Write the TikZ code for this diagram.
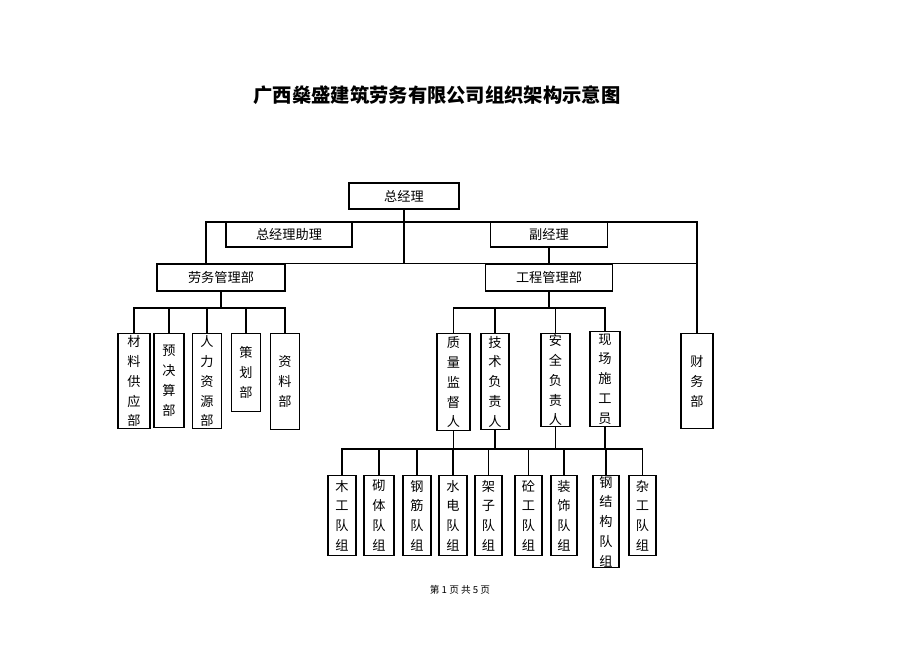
\documentclass[tikz,border=0pt]{standalone}
\usepackage{fontspec}
\setmainfont{Noto Sans CJK SC}
\tikzstyle{box}=[draw,thick,inner sep=0pt,font=\fontsize{7.5}{9}\selectfont]
\tikzstyle{vbox}=[box,anchor=north,align=center,font=\fontsize{7.5}{11.3}\selectfont]
\tikzstyle{link}=[thick]

\begin{document}
\begin{tikzpicture}[x=0.02cm,y=-0.02cm]
\useasboundingbox (0,0) rectangle (920,651);
\node (title) at (437,95) {\fontsize{11}{13}\selectfont\bfseries 广西燊盛建筑劳务有限公司组织架构示意图};
% top level
\node[box,minimum width=2.2cm,minimum height=0.52cm] (gm) at (404,196) {总经理};
\node[box,minimum width=2.52cm,minimum height=0.5cm] (zl) at (289,234.5) {总经理助理};
\node[box,minimum width=2.34cm,minimum height=0.5cm] (fj) at (549,234.5) {副经理};
\node[box,minimum width=2.56cm,minimum height=0.54cm] (lab) at (221,277.5) {劳务管理部};
\node[box,minimum width=2.54cm,minimum height=0.54cm] (gc) at (549,277.5) {工程管理部};
% left column
\node[vbox,minimum width=0.64cm,minimum height=1.9cm] (l1) at (134,333) {材\\料\\供\\应\\部};
\node[vbox,minimum width=0.6cm,minimum height=1.88cm] (l2) at (169,333) {预\\决\\算\\部};
\node[vbox,minimum width=0.58cm,minimum height=1.9cm] (l3) at (207,333) {人\\力\\资\\源\\部};
\node[vbox,minimum width=0.58cm,minimum height=1.56cm] (l4) at (246,333) {策\\划\\部};
\node[vbox,minimum width=0.58cm,minimum height=1.92cm] (l5) at (285,333) {资\\料\\部};
% middle column
\node[vbox,minimum width=0.66cm,minimum height=1.94cm] (m1) at (453.5,333) {质\\量\\监\\督\\人};
\node[vbox,minimum width=0.56cm,minimum height=1.92cm] (m2) at (495,333) {技\\术\\负\\责\\人};
\node[vbox,minimum width=0.58cm,minimum height=1.86cm] (m3) at (555.5,333) {安\\全\\负\\责\\人};
\node[vbox,minimum width=0.6cm,minimum height=1.9cm] (m4) at (605,331) {现\\场\\施\\工\\员};
\node[vbox,minimum width=0.64cm,minimum height=1.9cm] (cw) at (697,333) {财\\务\\部};
% teams
\node[vbox,minimum width=0.56cm,minimum height=1.6cm] (b1) at (342,475) {木\\工\\队\\组};
\node[vbox,minimum width=0.6cm,minimum height=1.6cm] (b2) at (379,475) {砌\\体\\队\\组};
\node[vbox,minimum width=0.56cm,minimum height=1.6cm] (b3) at (417,475) {钢\\筋\\队\\组};
\node[vbox,minimum width=0.56cm,minimum height=1.6cm] (b4) at (453,475) {水\\电\\队\\组};
\node[vbox,minimum width=0.54cm,minimum height=1.6cm] (b5) at (488.5,475) {架\\子\\队\\组};
\node[vbox,minimum width=0.54cm,minimum height=1.6cm] (b6) at (528.5,475) {砼\\工\\队\\组};
\node[vbox,minimum width=0.52cm,minimum height=1.6cm] (b7) at (564,475) {装\\饰\\队\\组};
\node[vbox,minimum width=0.52cm,minimum height=1.84cm] (b8) at (606,475) {钢\\结\\构\\队\\组};
\node[vbox,minimum width=0.54cm,minimum height=1.6cm] (b9) at (642.5,475) {杂\\工\\队\\组};
\node (foot) at (460,590) {\fontsize{5.5}{7}\selectfont 第 1 页 共 5 页};

% connectors
\coordinate (t1) at (206,222);
\coordinate (lb) at (206,308);
\coordinate (mb) at (549,308);
\coordinate (bb) at (549,449);
\draw[link] (lab.north -| t1) -- (t1) -- (t1 -| cw.north) -- (cw.north);
\draw[link] (lab.north -| t1) -- (gc.north -| cw.north);
\draw[link] (gm.south) -- (gm.south |- lab.north);
\draw[link] (fj.south) -- (gc.north);
\draw[link] (lab.south) -- (lab.south |- lb);
\draw[link] (l1.north) |- (l5.north |- lb) -- (l5.north);
\foreach \n in {l2,l3,l4}
    \draw[link] (\n.north) -- (\n.north |- lb);
\draw[link] (gc.south) -- (mb);
\draw[link] (m1.north) |- (m4.north |- mb) -- (m4.north);
\foreach \n in {m2,m3}
    \draw[link] (\n.north) -- (\n.north |- mb);
\foreach \n in {m1,m2,m3,m4}
    \draw[link] (\n.south) -- (\n.south |- bb);
\draw[link] (b1.north) |- (b9.north |- bb) -- (b9.north);
\foreach \n in {b2,b3,b4,b5,b6,b7,b8}
    \draw[link] (\n.north) -- (\n.north |- bb);
\end{tikzpicture}
\end{document}
